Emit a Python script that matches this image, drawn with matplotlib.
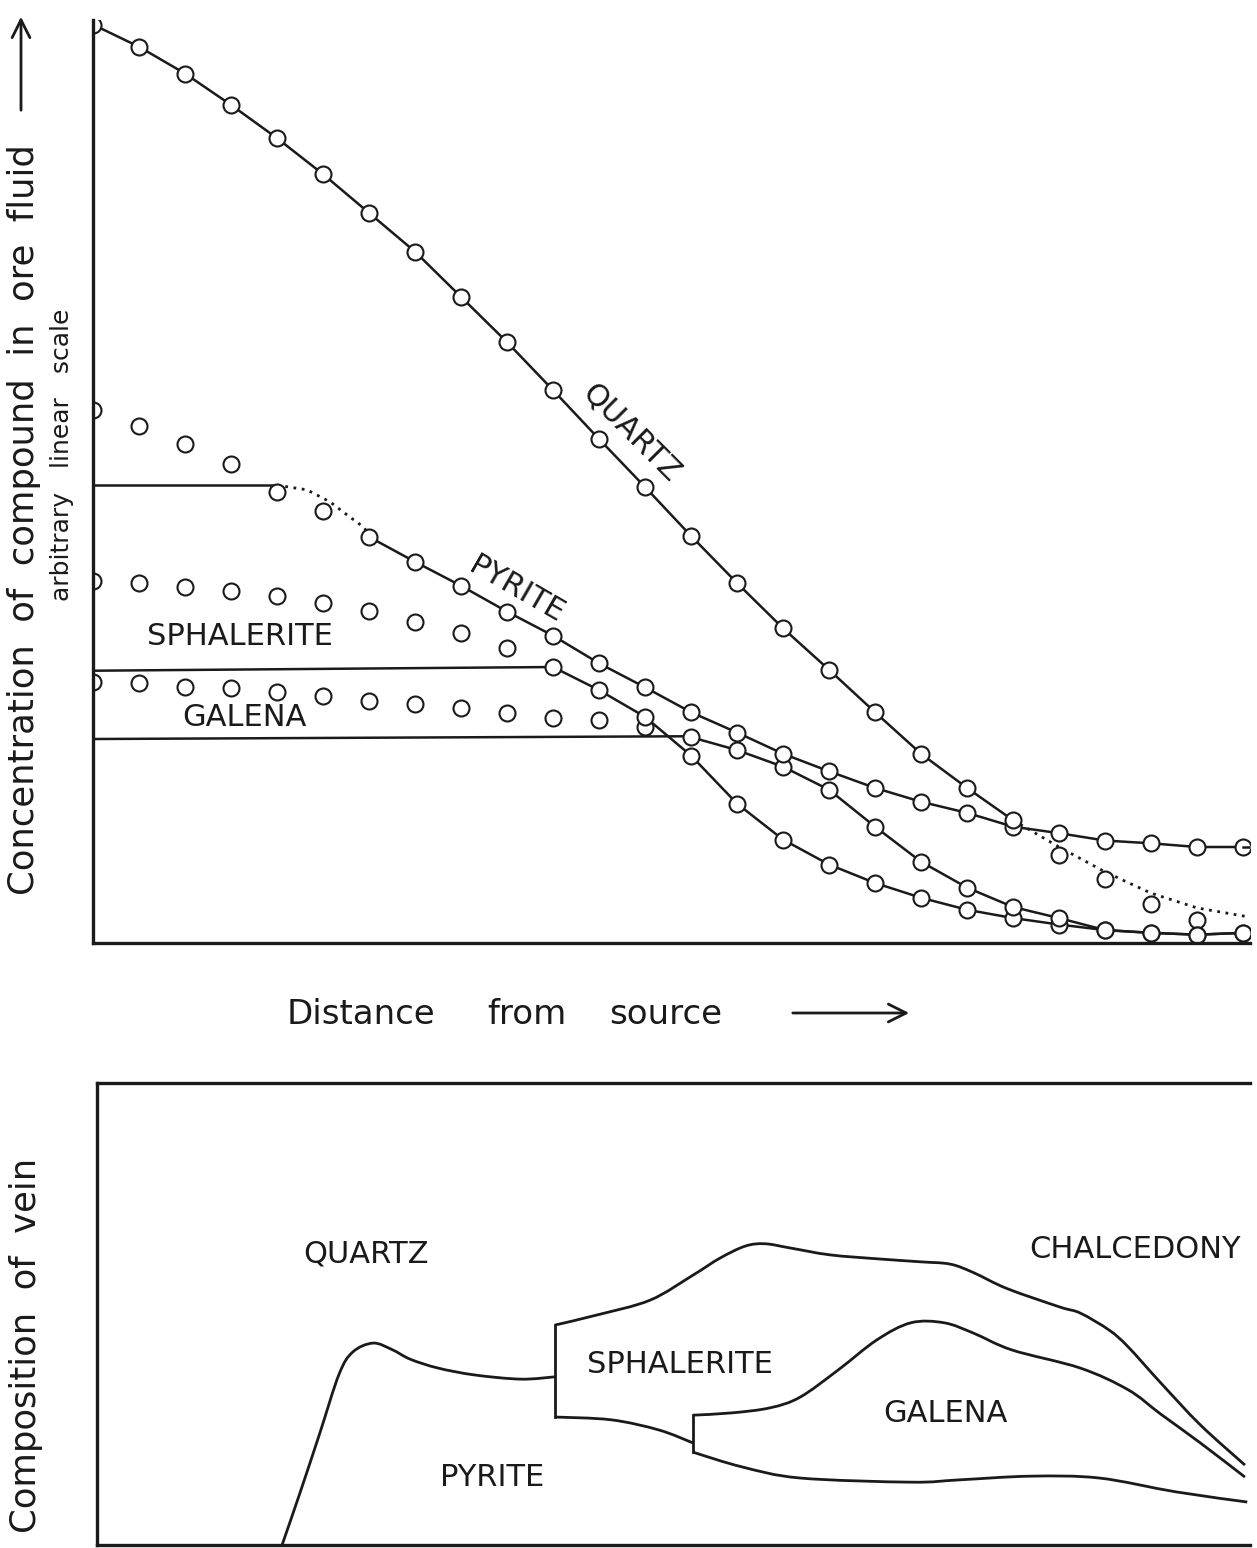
import matplotlib
matplotlib.use("Agg")
import matplotlib.pyplot as plt
from matplotlib.path import Path
from matplotlib.patches import PathPatch
import numpy as np

W, H = 1257, 1548

# ---- top panel: concentration in ore fluid (arbitrary 0-100 scale) ----
# distance index 0..25 along the vein
quartz_x = np.arange(0, 21)
quartz_y = [99.5, 97.1, 94.2, 90.8, 87.2, 83.3, 79.1, 74.9, 70.0, 65.1, 59.9,
            54.6, 49.4, 44.1, 39.0, 34.1, 29.6, 25.0, 20.5, 16.8, 13.3]
quartz_dot_x = [20, 21, 22, 23, 24, 25.15]
quartz_dot_y = [13.3, 10.4, 7.7, 5.4, 3.8, 2.8]
quartz_free_x = [21, 22, 23, 24]
quartz_free_y = [9.5, 6.9, 4.2, 2.5]

pyrite_free_x = [0, 1, 2, 3, 4, 5]
pyrite_free_y = [57.8, 56.0, 54.1, 51.9, 48.9, 46.8]
pyrite_sat_x = [0, 4]
pyrite_sat_y = [49.6, 49.6]
pyrite_dot_x = [4, 4.65, 5.15, 5.57, 5.9, 6]
pyrite_dot_y = [49.6, 49.1, 47.8, 46.2, 45.0, 44.0]
pyrite_x = np.arange(6, 26)
pyrite_y = [44.0, 41.3, 38.7, 35.9, 33.3, 30.3, 27.7, 25.0, 22.8, 20.5,
            18.6, 16.8, 15.3, 14.1, 12.6, 11.9, 11.1, 10.8, 10.4, 10.4]

sphal_free_x = np.arange(0, 10)
sphal_free_y = [39.2, 39.0, 38.6, 38.1, 37.6, 36.8, 36.0, 34.8, 33.6, 32.0]
sphal_sat_x = [0, 10]
sphal_sat_y = [29.5, 29.9]
sphal_x = np.arange(10, 26)
sphal_y = [29.9, 27.4, 24.5, 20.3, 15.1, 11.2, 8.5, 6.5, 4.9, 3.6,
           2.7, 2.0, 1.4, 1.1, 0.9, 1.1]

galena_free_x = np.arange(0, 13)
galena_free_y = [28.3, 28.2, 27.7, 27.6, 27.2, 26.8, 26.2, 25.9, 25.5, 24.9,
                 24.4, 24.2, 23.4]
galena_sat_x = [0, 13]
galena_sat_y = [22.1, 22.4]
galena_x = np.arange(13, 26)
galena_y = [22.3, 20.9, 19.1, 16.6, 12.6, 8.8, 6.0, 3.9, 2.7, 1.4, 1.1, 0.9, 1.1]

# ---- bottom panel: composition of vein (schematic boundaries, 0-100) ----
pyr_bx = [4.11, 4.50, 4.93, 5.35, 5.65, 6.09, 6.50, 6.90, 7.50, 8.30, 9.30, 10.04]
pyr_by = [0.0, 11.3, 24.2, 37.0, 41.8, 43.7, 42.3, 40.2, 38.3, 36.8, 35.9, 36.4]

sph_top_x = [10.04, 10.96, 12.11, 13.04, 13.63, 14.18, 14.61, 15.15, 16.02,
             17.11, 17.98, 18.63, 19.13, 19.87, 21.02, 21.46, 22.09, 22.50, 23.20,
             24.07, 25.04]
sph_top_y = [47.6, 49.8, 53.0, 58.4, 62.1, 64.7, 65.2, 64.3, 62.8,
             61.9, 61.3, 60.8, 59.0, 55.5, 51.5, 50.2, 46.5, 42.9, 35.2,
             26.0, 17.3]
sph_bot_x = [10.04, 11.26, 12.30, 13.04]
sph_bot_y = [27.7, 27.1, 24.9, 22.1]
sph_edge_y = [47.6, 27.7]

gal_top_x = [13.04, 13.89, 14.72, 15.37, 16.20, 17.04, 17.78, 18.50, 19.13, 19.98,
             21.46, 22.50, 23.20, 24.07, 25.04]
gal_top_y = [28.1, 28.6, 29.7, 32.0, 37.9, 44.4, 48.1, 48.1, 45.9, 42.2,
             38.3, 33.6, 28.4, 22.1, 14.7]
gal_bot_x = [13.04, 14.11, 15.37, 17.78, 18.83, 20.39, 21.87, 23.54, 25.09]
gal_bot_y = [20.1, 16.9, 14.5, 13.6, 14.1, 14.9, 14.5, 11.5, 9.3]
gal_edge_y = [28.1, 20.1]

plt.rcParams['font.family'] = ['DejaVu Sans']
fig = plt.figure(figsize=(W / 100, H / 100), dpi=100)

def fx(px):
    return px / W

def fy(py):
    return 1 - py / H

def smooth_curve(axis, xs, ys, **kw):
    # catmull-rom through the given points, drawn as cubic bezier path
    pts = np.column_stack([xs, ys])
    verts = [pts[0]]
    codes = [Path.MOVETO]
    n = len(pts)
    for i in range(n - 1):
        p0 = pts[i - 1] if i > 0 else pts[i]
        p1, p2 = pts[i], pts[i + 1]
        p3 = pts[i + 2] if i + 2 < n else pts[i + 1]
        verts += [p1 + (p2 - p0) / 6, p2 - (p3 - p1) / 6, p2]
        codes += [Path.CURVE4] * 3
    axis.add_patch(PathPatch(Path(verts, codes), fill=False, **kw))

lw = 1.8
mk = dict(marker='o', ms=11.5, mfc='white', mec='#1a1a1a', mew=1.5)
col = '#1a1a1a'

ax = fig.add_axes([fx(93), fy(943), fx(1250) - fx(93), fy(20) - fy(943)])
ax.set_xlim(0, 25.15)
ax.set_ylim(0, 100)
for s in ['top', 'right']:
    ax.spines[s].set_visible(False)
for s in ['left', 'bottom']:
    ax.spines[s].set_linewidth(2.4)
    ax.spines[s].set_color(col)
ax.set_xticks([])
ax.set_yticks([])

# saturation lines
ax.plot(pyrite_sat_x, pyrite_sat_y, color=col, lw=lw)
ax.plot(sphal_sat_x, sphal_sat_y, color=col, lw=lw)
ax.plot(galena_sat_x, galena_sat_y, color=col, lw=lw)
ax.plot(pyrite_dot_x, pyrite_dot_y, color=col, lw=2, ls=(0, (1, 2)))
ax.plot(quartz_dot_x, quartz_dot_y, color=col, lw=2, ls=(0, (1, 2)))

# free (unsaturated) points
for xs, ys in [(pyrite_free_x, pyrite_free_y), (sphal_free_x, sphal_free_y),
               (galena_free_x, galena_free_y), (quartz_free_x, quartz_free_y)]:
    ax.plot(xs, ys, ls='none', **mk)

# depositing curves
ax.plot(sphal_x, sphal_y, color=col, lw=lw, **mk)
ax.plot(galena_x, galena_y, color=col, lw=lw, **mk)
ax.plot(pyrite_x, pyrite_y, color=col, lw=lw, **mk)
ax.plot(quartz_x, quartz_y, color=col, lw=lw, **mk)
ax.plot([25, 25.15], [10.4, 10.4], color=col, lw=lw)

lab = dict(fontsize=22, color=col, ha='center', va='center')
ax.text(11.7, 55.3, 'QUARTZ', rotation=-45, **lab)
ax.text(9.2, 38.3, 'PYRITE', rotation=-30, **lab)
ax.text(3.2, 33.2, 'SPHALERITE', **lab)
ax.text(3.3, 24.4, 'GALENA', **lab)

# axis captions
fig.text(fx(24), fy(520), 'Concentration  of  compound  in  ore  fluid',
         rotation=90, ha='center', va='center', fontsize=25.5, color=col)
fig.text(fx(62), fy(455), 'arbitrary   linear   scale', rotation=90,
         ha='center', va='center', fontsize=18, color=col)
ax.annotate('', xy=(fx(21), fy(14)), xytext=(fx(21), fy(113)),
            xycoords='figure fraction', textcoords='figure fraction',
            arrowprops=dict(arrowstyle='->', lw=2, color=col, mutation_scale=32))

for word, px in [('Distance', 361), ('from', 527), ('source', 666)]:
    fig.text(fx(px), fy(1015), word, ha='center', va='center', fontsize=24.5, color=col)
ax.annotate('', xy=(fx(912), fy(1013)), xytext=(fx(790), fy(1013)),
            xycoords='figure fraction', textcoords='figure fraction',
            arrowprops=dict(arrowstyle='->', lw=2, color=col, mutation_scale=32))

# ---- bottom panel ----
bx = fig.add_axes([fx(97), fy(1545), fx(1250) - fx(97), fy(1083) - fy(1545)])
bx.set_xlim(0.087, 25.15)
bx.set_ylim(0, 100)
bx.spines['right'].set_visible(False)
for s in ['left', 'bottom', 'top']:
    bx.spines[s].set_linewidth(2.4)
    bx.spines[s].set_color(col)
bx.set_xticks([])
bx.set_yticks([])

blw = 2.0
smooth_curve(bx, pyr_bx, pyr_by, color=col, lw=blw)
smooth_curve(bx, sph_top_x, sph_top_y, color=col, lw=blw)
smooth_curve(bx, sph_bot_x, sph_bot_y, color=col, lw=blw)
bx.plot([sph_top_x[0], sph_top_x[0]], sph_edge_y, color=col, lw=blw)
smooth_curve(bx, gal_top_x, gal_top_y, color=col, lw=blw)
smooth_curve(bx, gal_bot_x, gal_bot_y, color=col, lw=blw)
bx.plot([gal_top_x[0], gal_top_x[0]], gal_edge_y, color=col, lw=blw)

blab = dict(fontsize=22, color=col, ha='center', va='center')
bx.text(5.93, 63.0, 'QUARTZ', **blab)
bx.text(22.65, 64.0, 'CHALCEDONY', **blab)
bx.text(12.76, 39.0, 'SPHALERITE', **blab)
bx.text(18.52, 28.5, 'GALENA', **blab)
bx.text(8.67, 14.6, 'PYRITE', **blab)

fig.text(fx(26), fy(1345), 'Composition  of  vein', rotation=90,
         ha='center', va='center', fontsize=25.5, color=col)

fig.savefig('out.png', dpi=100, facecolor='white')
